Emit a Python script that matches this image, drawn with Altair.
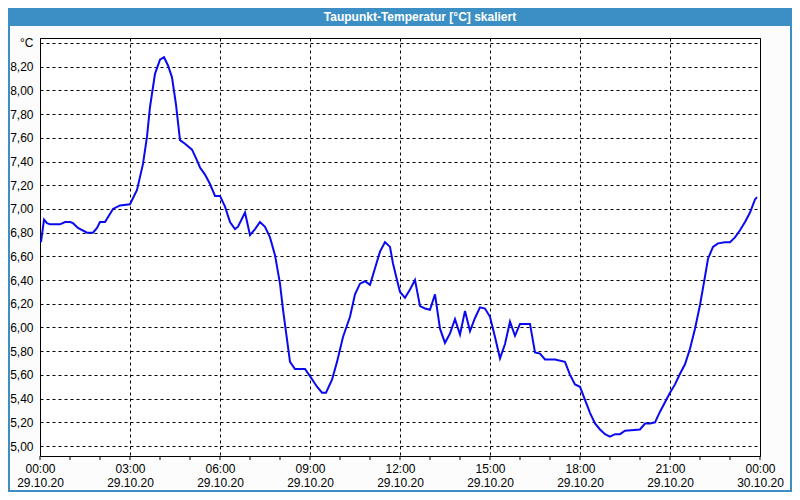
import altair as alt
import pandas as pd

# ---- data ----
title_text = ["Taupunkt-Temperatur [°C] skaliert"]

# minutes after 29.10.20 00:00
minutes = [
    2, 8, 14, 20, 30, 40, 50, 60, 66, 76, 94, 106, 114, 120, 130, 146, 160, 180,
    194, 206, 214, 220, 230, 240, 248, 256, 264, 272, 280, 290, 304, 314, 320,
    330, 340, 350, 360, 370, 380, 390, 396, 410, 420, 430, 440, 450, 460, 470,
    480, 486, 494, 500, 510, 530, 540, 554, 564, 572, 584, 594, 606, 620, 630,
    640, 650, 660, 670, 680, 690, 700, 706, 714, 720, 730, 740, 750, 760, 770,
    780, 790, 800, 810, 820, 830, 840, 850, 860, 870, 880, 890, 900, 910, 920,
    930, 940, 950, 960, 980, 990, 1000, 1010, 1030, 1050, 1060, 1070, 1080,
    1090, 1100, 1110, 1120, 1130, 1140, 1150, 1160, 1170, 1200, 1210, 1220,
    1230, 1240, 1250, 1260, 1270, 1280, 1290, 1300, 1310, 1320, 1330, 1336,
    1346, 1356, 1370, 1380, 1390, 1400, 1410, 1420, 1430, 1434,
]
# dew point in °C
values = [
    6.72, 6.91, 6.88, 6.87, 6.87, 6.87, 6.89, 6.89, 6.88, 6.84, 6.80, 6.80, 6.84,
    6.89, 6.89, 7.00, 7.03, 7.04, 7.16, 7.38, 7.61, 7.86, 8.14, 8.26, 8.28, 8.21,
    8.11, 7.88, 7.58, 7.55, 7.50, 7.41, 7.35, 7.29, 7.21, 7.11, 7.11, 7.02, 6.89,
    6.83, 6.85, 6.97, 6.78, 6.83, 6.89, 6.85, 6.76, 6.61, 6.37, 6.15, 5.90, 5.71,
    5.65, 5.65, 5.59, 5.50, 5.45, 5.45, 5.56, 5.71, 5.92, 6.09, 6.28, 6.37, 6.39,
    6.36, 6.50, 6.64, 6.72, 6.68, 6.54, 6.40, 6.30, 6.25, 6.32, 6.40, 6.18, 6.16,
    6.15, 6.28, 5.99, 5.87, 5.95, 6.07, 5.94, 6.14, 5.97, 6.08, 6.17, 6.16, 6.09,
    5.92, 5.74, 5.86, 6.05, 5.93, 6.03, 6.03, 5.79, 5.78, 5.73, 5.73, 5.71, 5.60,
    5.52, 5.50, 5.39, 5.28, 5.19, 5.14, 5.10, 5.08, 5.10, 5.10, 5.13, 5.14, 5.19,
    5.19, 5.20, 5.29, 5.37, 5.45, 5.52, 5.61, 5.69, 5.82, 5.99, 6.19, 6.43, 6.58,
    6.68, 6.71, 6.72, 6.72, 6.76, 6.82, 6.89, 6.97, 7.08, 7.10,
]
n = min(len(minutes), len(values))
minutes = minutes[:n]
values = values[:n]

x_tick_values = [0, 180, 360, 540, 720, 900, 1080, 1260, 1440]
x_tick_times = ["00:00", "03:00", "06:00", "09:00", "12:00", "15:00", "18:00", "21:00", "00:00"]
x_tick_dates = ["29.10.20", "29.10.20", "29.10.20", "29.10.20", "29.10.20",
                "29.10.20", "29.10.20", "29.10.20", "30.10.20"]
minor_ticks = [h * 60 for h in range(25)]

y_tick_values = [5.0, 5.2, 5.4, 5.6, 5.8, 6.0, 6.2, 6.4, 6.6, 6.8, 7.0, 7.2,
                 7.4, 7.6, 7.8, 8.0, 8.2, 8.4]
y_tick_labels = ["5,00", "5,20", "5,40", "5,60", "5,80", "6,00", "6,20", "6,40",
                 "6,60", "6,80", "7,00", "7,20", "7,40", "7,60", "7,80", "8,00",
                 "8,20", "°C"]

# ---- styles ----
BLUE = "#3c8fc4"
LINE = "#0a0af0"
FONT = "Liberation Sans"
W, H = 720, 418
PAD_L, PAD_T, PAD_R, PAD_B = 32, 30, 32, 36

df = pd.DataFrame({"m": minutes, "v": values})

x_expr = ""
for v, t, d in zip(x_tick_values, x_tick_times, x_tick_dates):
    x_expr += f"datum.value == {v} ? ['{t}', '{d}'] : "
x_expr += "''"

y_expr = ""
for v, l in zip(y_tick_values, y_tick_labels):
    y_expr += f"abs(datum.value - {v}) < 0.001 ? '{l}' : "
y_expr += "''"

x_scale = alt.Scale(domain=[0, 1440], nice=False, zero=False)
y_scale = alt.Scale(domain=[4.916, 8.442], nice=False, zero=False)

x_axis = alt.Axis(
    values=x_tick_values, labelExpr=x_expr, title=None, grid=True,
    gridDash=[3, 3], gridColor="black", gridOpacity=1, gridWidth=1,
    domain=False, ticks=False, labelPadding=7, labelFont=FONT,
    labelFontSize=12, labelColor="black", labelLineHeight=14,
    labelOverlap=False, labelFlush=False, labelBound=False,
)
y_axis = alt.Axis(
    values=y_tick_values, labelExpr=y_expr, title=None, grid=True,
    gridDash=[3, 3], gridColor="black", gridOpacity=1, gridWidth=1,
    domain=False, ticks=False, labelPadding=7, labelFont=FONT,
    labelFontSize=12, labelColor="black", labelOverlap=False,
    labelFlush=False, labelBound=False,
)

line = alt.Chart(df).mark_line(color=LINE, strokeWidth=2, clip=True).encode(
    x=alt.X("m:Q", scale=x_scale, axis=x_axis),
    y=alt.Y("v:Q", scale=y_scale, axis=y_axis),
)

ticks = alt.Chart(pd.DataFrame({"m": minor_ticks})).mark_rule(
    color="black", strokeWidth=1
).encode(
    x=alt.X("m:Q", scale=x_scale, axis=x_axis),
    y=alt.value(H),
    y2=alt.value(H + 4),
)

bar = alt.Chart(pd.DataFrame({"t": title_text})).mark_rect(color=BLUE).encode(
    x=alt.value(-PAD_L), x2=alt.value(W + PAD_R),
    y=alt.value(-PAD_T), y2=alt.value(-PAD_T + 18),
)

border = alt.Chart(pd.DataFrame({"t": title_text})).mark_rect(
    fill=None, fillOpacity=0, stroke=BLUE, strokeWidth=2
).encode(
    x=alt.value(-PAD_L + 1), x2=alt.value(W + PAD_R - 1),
    y=alt.value(-PAD_T + 1), y2=alt.value(H + PAD_B - 1),
)

title = alt.Chart(pd.DataFrame({"t": title_text})).mark_text(
    color="white", font=FONT, fontSize=12, fontWeight="bold",
    align="center", baseline="middle",
).encode(
    text="t:N",
    x=alt.value(380),
    y=alt.value(-PAD_T + 9),
)

chart = alt.layer(line, ticks, bar, border, title).properties(
    width=W, height=H,
    autosize=alt.AutoSizeParams(type="none"),
    padding={"left": PAD_L, "top": PAD_T, "right": PAD_R, "bottom": PAD_B},
    background="#fbfcfb",
).configure_view(
    stroke="black", strokeWidth=1, fill="white",
)

chart.save("out.html", embed_options={"renderer": "svg", "actions": False})
